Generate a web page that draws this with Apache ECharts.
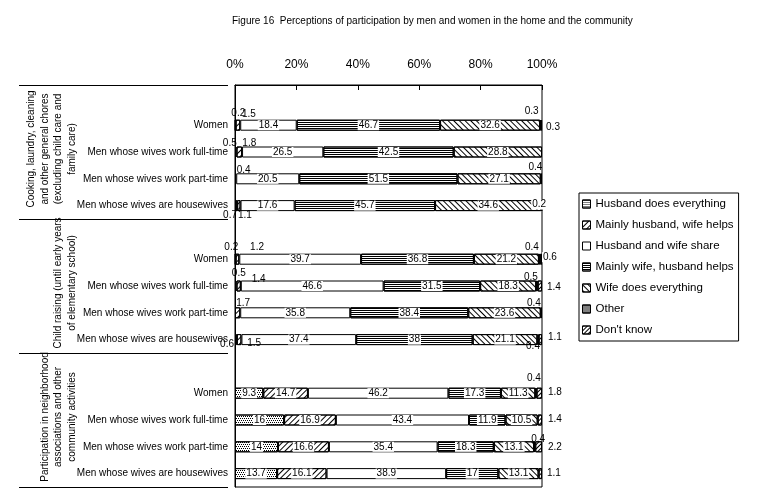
<!DOCTYPE html>
<html><head><meta charset="utf-8">
<script src="https://cdn.jsdelivr.net/npm/echarts@6/dist/echarts.min.js"></script>
<style>html,body{margin:0;padding:0;background:#fff}#c{width:757px;height:497px}</style>
</head><body><div id="c"></div>
<script>
// ---------- data ----------
const titleText = 'Figure 16  Perceptions of participation by men and women in the home and the community';
const categories = [
  '', 'Women', 'Men whose wives work full-time', 'Men whose wives work part-time', 'Men whose wives are housewives',
  '', 'Women', 'Men whose wives work full-time', 'Men whose wives work part-time', 'Men whose wives are housewives',
  '', 'Women', 'Men whose wives work full-time', 'Men whose wives work part-time', 'Men whose wives are housewives'
];
const groupLabels = [
  'Cooking, laundry, cleaning\nand other general chores\n(excluding child care and\nfamily care)',
  'Child raising (until early years\nof elementary school)',
  'Participation in neighborhood\nassociations and other\ncommunity activities'
];
const seriesNames = ['Husband does everything', 'Mainly husband, wife helps', 'Husband and wife share',
  'Mainly wife, husband helps', 'Wife does everything', 'Other', "Don't know"];
const husbandEverything = [null, 0.2, 0.5, 0,   0.7, null, 0.2, 0.5, 0,   0.6, null, 9.3, 16,   14,   13.7];
const mainlyHusband     = [null, 1.5, 1.8, 0.4, 1.1, null, 1.2, 1.4, 1.7, 1.5, null, 14.7, 16.9, 16.6, 16.1];
const shared            = [null, 18.4, 26.5, 20.5, 17.6, null, 39.7, 46.6, 35.8, 37.4, null, 46.2, 43.4, 35.4, 38.9];
const mainlyWife        = [null, 46.7, 42.5, 51.5, 45.7, null, 36.8, 31.5, 38.4, 38, null, 17.3, 11.9, 18.3, 17];
const wifeEverything    = [null, 32.6, 28.8, 27.1, 34.6, null, 21.2, 18.3, 23.6, 21.1, null, 11.3, 10.5, 13.1, 13.1];
const other             = [null, 0.3, 0,   0.4, 0.2, null, 0.4, 0.5, 0.4, 0.4, null, 0.4, 0,   0.4, 0];
const dontKnow          = [null, 0.3, 0,   0,   0,   null, 0.6, 1.4, 0,   1.1, null, 1.8, 1.4, 2.2, 1.1];
const xTicks = [0, 20, 40, 60, 80, 100];

// ---------- style ----------
const FONT = 'Liberation Sans, Arial, sans-serif';
const LABEL_FONT = 'Liberation Sans Narrow, Liberation Sans, Arial, sans-serif';
const G = {left: 235, right: 215, top: 85, bottom: 10};
const decals = [
  {symbol: 'rect', symbolSize: 1, color: '#000', dashArrayX: [[1, 1], [0, 1, 1, 0]], dashArrayY: [1, 1]},
  {symbol: 'rect', symbolSize: 1, color: '#000', dashArrayX: [1, 0], dashArrayY: [1, 3], rotation: -Math.PI / 4},
  null,
  {symbol: 'rect', symbolSize: 1, color: '#000', dashArrayX: [1, 0], dashArrayY: [1, 1]},
  {symbol: 'rect', symbolSize: 1, color: '#000', dashArrayX: [1, 0], dashArrayY: [1, 3], rotation: Math.PI / 4},
  {symbol: 'rect', symbolSize: 1, color: '#000', dashArrayX: [1, 1], dashArrayY: [1, 0]},
  {symbol: 'rect', symbolSize: 1, color: '#000', dashArrayX: [1, 0], dashArrayY: [1, 2], rotation: -Math.PI / 4}
];
// label placement for small segments: "series-category": [position, dx, dy]
const labelPlacement = {
  '0-1': ['top', 3, -1], '1-1': ['top', 11, 0], '5-1': ['top', -9, -3], '6-1': ['right', 3, 2],
  '0-2': ['top', -6, 1.5], '1-2': ['top', 10, 2],
  '1-3': ['top', 8, 1.5], '5-3': ['top', -6, -1],
  '0-4': ['bottom', -6, -1], '1-4': ['bottom', 6, -1], '5-4': ['right', -11, -1],
  '0-6': ['top', -4, -1.5], '1-6': ['top', 19.6, -1.5], '5-6': ['top', -7.6, -1.5], '6-6': ['right', 0, -2],
  '0-7': ['top', 3, -2], '1-7': ['top', 20, 4], '5-7': ['top', -6, 1.5], '6-7': ['right', 4, 1],
  '1-8': ['top', 5.5, 1], '5-8': ['top', -7.5, 1],
  '0-9': ['left', 0, 4.5], '1-9': ['bottom', 15, -7], '5-9': ['bottom', -5, -4], '6-9': ['right', 5, -2],
  '5-11': ['top', -2, -4], '6-11': ['right', 5, -1],
  '6-12': ['right', 5, -1],
  '5-13': ['top', 3.5, 3], '6-13': ['right', 5, 0],
  '6-14': ['right', 4, 0]
};

const raw = [husbandEverything, mainlyHusband, shared, mainlyWife, wifeEverything, other, dontKnow];
const totals = categories.map((c, i) => raw.reduce((s, a) => s + (a[i] || 0), 0));

const series = raw.map((arr, si) => ({
  name: seriesNames[si],
  type: 'bar',
  stack: 'total',
  barWidth: 11,
  animation: false,
  itemStyle: {color: '#fff', borderColor: '#000', borderWidth: 1, decal: decals[si] || undefined},
  emphasis: {disabled: true},
  label: {
    show: true, position: 'inside', color: '#000', fontSize: 10, fontFamily: LABEL_FONT,
    backgroundColor: '#fff', padding: [0, 1],
    formatter: p => (p.data && p.data.raw != null) ? String(p.data.raw) : ''
  },
  data: arr.map((v, i) => {
    if (v === null || v === 0) return {value: '-', label: {show: false}};
    const item = {value: v / totals[i] * 100, raw: v};
    const pl = labelPlacement[si + '-' + i];
    if (pl) item.label = {position: pl[0], distance: 0, offset: [pl[1], pl[2]],
      backgroundColor: pl[0] === 'right' ? '#fff' : 'transparent'};
    return item;
  })
}));

// ---------- chart ----------
const chart = echarts.init(document.getElementById('c'), null, {renderer: 'canvas'});
const slot = (497 - G.top - G.bottom) / categories.length;
const graphics = [];
for (let g = 0; g <= 3; g++) {
  const y = Math.round(G.top + g * 5 * slot) + 0.5;
  graphics.push({type: 'line', silent: true, shape: {x1: 19, y1: y, x2: 228, y2: y}, style: {stroke: '#000', lineWidth: 1}});
}
groupLabels.forEach((t, g) => {
  const n = t.split('\n').length;
  const lh = 13.5;
  graphics.push({
    type: 'text', silent: true,
    x: 72 - (n - 1) * lh / 2, y: G.top + (g * 5 + 2.5) * slot - 3,
    rotation: Math.PI / 2,
    style: {text: t, fill: '#000', font: '10px ' + FONT, align: 'center', verticalAlign: 'middle', lineHeight: lh}
  });
});

chart.setOption({
  animation: false,
  backgroundColor: '#fff',
  title: {text: titleText, left: 232, top: 16, padding: 0,
    textStyle: {fontSize: 10, fontWeight: 'normal', color: '#000', fontFamily: FONT}},
  legend: {
    orient: 'vertical', left: 579, top: 193, padding: [4, 5, 4, 3], itemGap: 7,
    itemWidth: 8, itemHeight: 8, icon: 'rect', borderColor: '#000', borderWidth: 1,
    selectedMode: false,
    itemStyle: {borderColor: '#000', borderWidth: 1},
    textStyle: {fontSize: 11.5, color: '#000', fontFamily: FONT, lineHeight: 14},
    data: seriesNames
  },
  grid: {left: G.left, right: G.right, top: G.top, bottom: G.bottom, show: true, borderColor: '#000', borderWidth: 1, containLabel: false},
  xAxis: {
    type: 'value', position: 'top', min: xTicks[0], max: xTicks[xTicks.length - 1], interval: xTicks[1] - xTicks[0],
    axisLine: {show: true, lineStyle: {color: '#000', width: 1}},
    axisTick: {show: true, inside: true, length: 5, lineStyle: {color: '#000'}},
    splitLine: {show: false},
    axisLabel: {formatter: '{value}%', color: '#000', fontSize: 12, fontFamily: FONT, margin: 14}
  },
  yAxis: {
    type: 'category', inverse: true, data: categories,
    axisLine: {show: true, lineStyle: {color: '#000', width: 1}},
    axisTick: {show: false},
    axisLabel: {color: '#000', fontSize: 10, fontFamily: FONT, margin: 7, interval: 0}
  },
  graphic: graphics,
  series: series
});
</script>
</body></html>
